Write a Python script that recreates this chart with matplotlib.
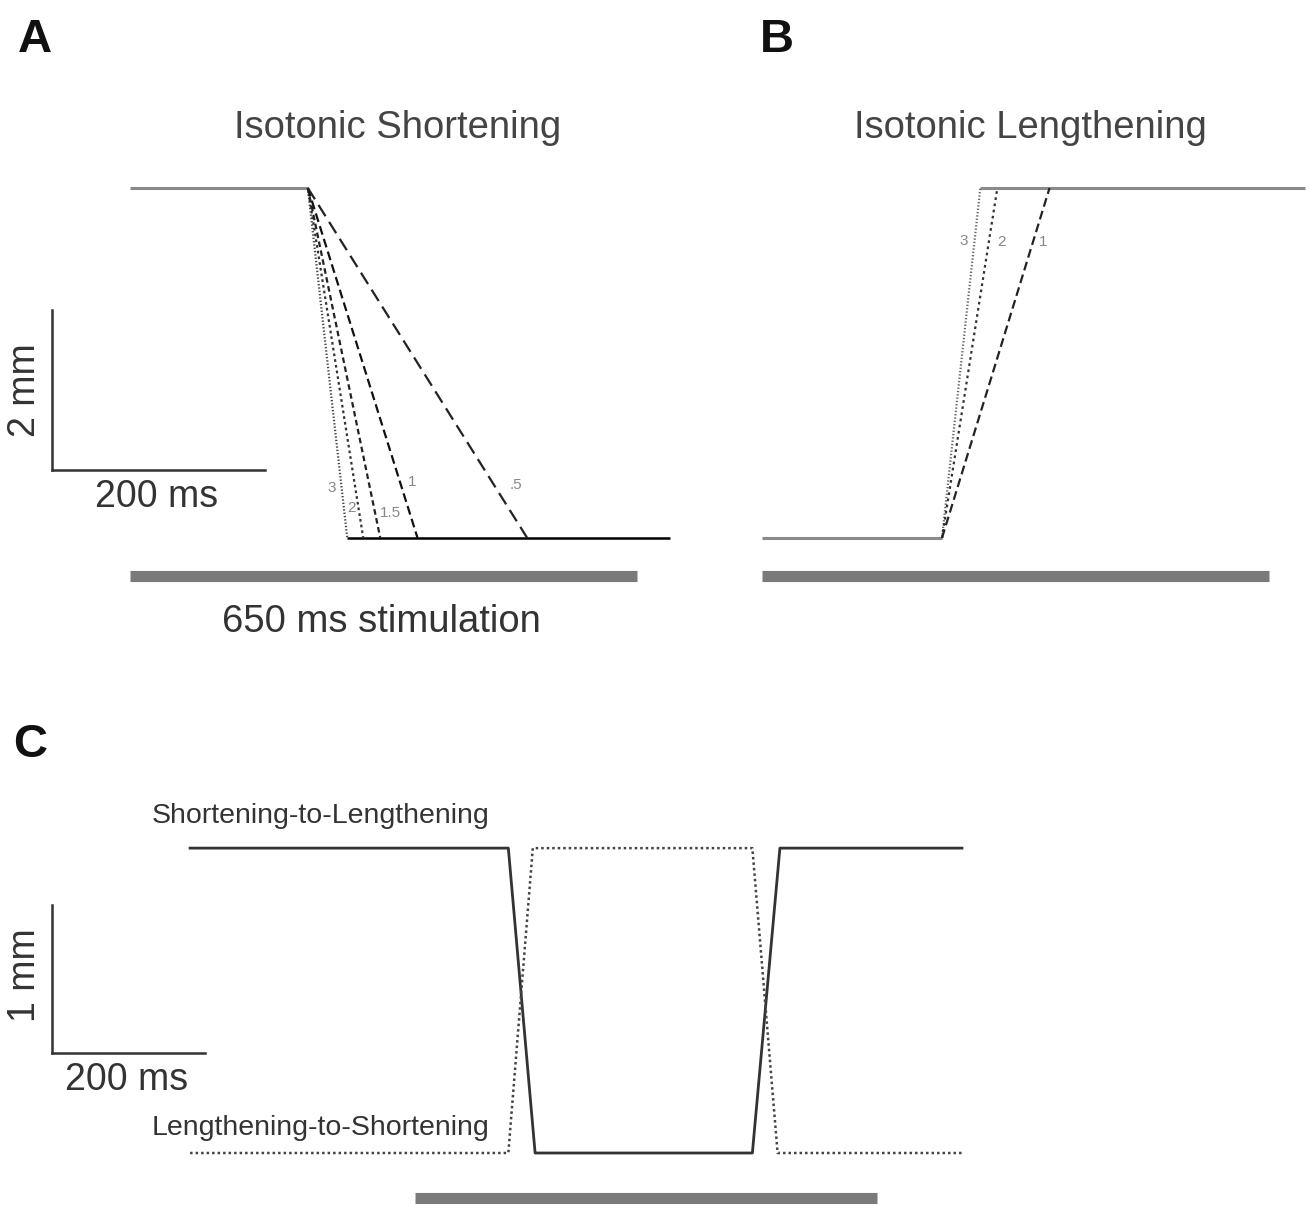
import matplotlib
matplotlib.use("Agg")
import matplotlib.pyplot as plt

# -------------------------
# Data (time in ms, length in mm)
# -------------------------
# Panel A: isotonic shortening, ramps start at 167 ms and end at these times
A_start_ms = 167
A_end_ms = [204, 219, 235, 270, 373]
A_labels = ["3", "2", "1.5", "1", ".5"]
A_amp_mm = 4.375
A_hold_end_ms = 507

# Panel B: isotonic lengthening, ramps start at 169 ms
B_start_ms = 169
B_end_ms = [205, 221, 270]
B_labels = ["3", "2", "1"]
B_amp_mm = 4.375
B_hold_end_ms = 510

STIM_MS = 476

# Panel C: shortening-to-lengthening (solid) and lengthening-to-shortening (dotted)
C_sl_t = [-294, 122, 157, 441, 477, 715]
C_sl_y = [2.06, 2.06, 0.0, 0.0, 2.06, 2.06]
C_ls_t = [-294, 122, 154, 441, 474, 715]
C_ls_y = [0.0, 0.0, 2.06, 2.06, 0.0, 0.0]
C_stim = [0, 604]

W, H = 1311, 1205
fig = plt.figure(figsize=(W / 100, H / 100), dpi=100)
plt.rcParams['font.family'] = ['Liberation Sans', 'DejaVu Sans']

GRAY = "#8a8a8a"
STIMC = "#7a7a7a"
DARK = "#222222"


def add_axes_px(x0, x1, y0, y1):
    """Axes placed by pixel box (y measured from top)."""
    ax = fig.add_axes([x0 / W, 1 - y1 / H, (x1 - x0) / W, (y1 - y0) / H])
    ax.set_axis_off()
    return ax


# scale for A and B: 1.065 px/ms, 80 px/mm
pxms, pxmm = 1.065, 80.0

# ---------- Panel A ----------
axA = add_axes_px(0, 700, 150, 600)
axA.set_xlim((0 - 130) / pxms, (700 - 130) / pxms)
axA.set_ylim((538 - 600) / pxmm, (538 - 150) / pxmm)

axA.plot([0, A_start_ms], [A_amp_mm, A_amp_mm], color=GRAY, lw=2.2, solid_capstyle="butt")
axA.plot([A_end_ms[0], A_hold_end_ms], [0, 0], color="black", lw=1.8, solid_capstyle="butt")
A_styles = [(0, (0.6, 0.9)), (0, (1.2, 1.4)), (0, (2.5, 1.6)), (0, (4, 2)), (0, (6, 3))]
A_colors = ["#444444", "#333333", "#222222", "#111111", "#222222"]
for te, st, c in zip(A_end_ms, A_styles, A_colors):
    axA.plot([A_start_ms, te], [A_amp_mm, 0], color=c, lw=1.6, linestyle=st)

A_lab_pos = [(332, 488), (352, 508), (390, 513), (412, 482), (516, 485)]
for lab, (px, py) in zip(A_labels, A_lab_pos):
    axA.text((px - 130) / pxms, (538 - py) / pxmm, lab, fontsize=11, color="#888888",
             ha="center", va="center")

# scale bar A
axA.plot([(52 - 130) / pxms] * 2, [(538 - 310) / pxmm, (538 - 470) / pxmm], color="#333333", lw=1.8)
axA.plot([(52 - 130) / pxms, (52 - 130) / pxms + 200], [(538 - 470) / pxmm] * 2, color="#333333", lw=1.8)
axA.text((157 - 130) / pxms, (538 - 497) / pxmm, "200 ms", fontsize=27, color="#333333",
         ha="center", va="center")
axA.text((25 - 130) / pxms, (538 - 390) / pxmm, "2 mm", fontsize=27, color="#333333",
         ha="center", va="center", rotation=90)

# stimulation bar A
axA.plot([0, STIM_MS], [(538 - 576) / pxmm] * 2, color=STIMC, lw=8, solid_capstyle="butt")

# ---------- Panel B ----------
axB = add_axes_px(700, 1311, 150, 600)
axB.set_xlim((700 - 762) / pxms, (1311 - 762) / pxms)
axB.set_ylim((538 - 600) / pxmm, (538 - 150) / pxmm)

axB.plot([0, B_start_ms], [0, 0], color=GRAY, lw=2.2, solid_capstyle="butt")
axB.plot([B_end_ms[0], B_hold_end_ms], [B_amp_mm, B_amp_mm], color=GRAY, lw=2.2, solid_capstyle="butt")
B_styles = [(0, (0.6, 0.9)), (0, (1.2, 1.6)), (0, (4, 2))]
B_colors = ["#666666", "#333333", "#222222"]
for te, st, c in zip(B_end_ms, B_styles, B_colors):
    axB.plot([B_start_ms, te], [0, B_amp_mm], color=c, lw=1.6, linestyle=st)

B_lab_pos = [(964, 241), (1001, 242), (1043, 242)]
for lab, (px, py) in zip(B_labels, B_lab_pos):
    axB.text((px - 762) / pxms, (538 - py) / pxmm, lab, fontsize=11, color="#888888",
             ha="center", va="center")

axB.plot([0, STIM_MS], [(538 - 576) / pxmm] * 2, color=STIMC, lw=8, solid_capstyle="butt")

# ---------- Panel C ----------
cms, cmm = 0.765, 148.0
axC = add_axes_px(0, 1311, 780, 1205)
axC.set_xlim((0 - 415) / cms, (1311 - 415) / cms)
axC.set_ylim((1153 - 1205) / cmm, (1153 - 780) / cmm)

axC.plot(C_sl_t, C_sl_y, color="#333333", lw=2.0)
axC.plot(C_ls_t, C_ls_y, color="#444444", lw=1.8, linestyle=(0, (1.0, 1.2)))

axC.plot([(52 - 415) / cms] * 2, [(1153 - 905) / cmm, (1153 - 1053) / cmm], color="#333333", lw=1.8)
axC.plot([(52 - 415) / cms, (52 - 415) / cms + 200], [(1153 - 1053) / cmm] * 2, color="#333333", lw=1.8)
axC.text((127 - 415) / cms, (1153 - 1080) / cmm, "200 ms", fontsize=27, color="#333333",
         ha="center", va="center")
axC.text((25 - 415) / cms, (1153 - 975) / cmm, "1 mm", fontsize=27, color="#333333",
         ha="center", va="center", rotation=90)

axC.text((152 - 415) / cms, (1153 - 816) / cmm, "Shortening-to-Lengthening", fontsize=20.5,
         color="#333333", ha="left", va="center")
axC.text((152 - 415) / cms, (1153 - 1128) / cmm, "Lengthening-to-Shortening", fontsize=20.5,
         color="#333333", ha="left", va="center")

axC.plot(C_stim, [(1153 - 1198) / cmm] * 2, color=STIMC, lw=8, solid_capstyle="butt")

# ---------- titles and panel letters ----------
fig.text(398 / W, 1 - 128 / H, "Isotonic Shortening", fontsize=27.5, color="#444444",
         ha="center", va="center")
fig.text(1030 / W, 1 - 128 / H, "Isotonic Lengthening", fontsize=27.5, color="#444444",
         ha="center", va="center")
fig.text(381 / W, 1 - 622 / H, "650 ms stimulation", fontsize=27.5, color="#333333",
         ha="center", va="center")
fig.text(35 / W, 1 - 40 / H, "A", fontsize=34, fontweight="bold", color="#111111",
         ha="center", va="center")
fig.text(777 / W, 1 - 40 / H, "B", fontsize=34, fontweight="bold", color="#111111",
         ha="center", va="center")
fig.text(30 / W, 1 - 745 / H, "C", fontsize=34, fontweight="bold", color="#111111",
         ha="center", va="center")

fig.savefig("out.png", dpi=100)
